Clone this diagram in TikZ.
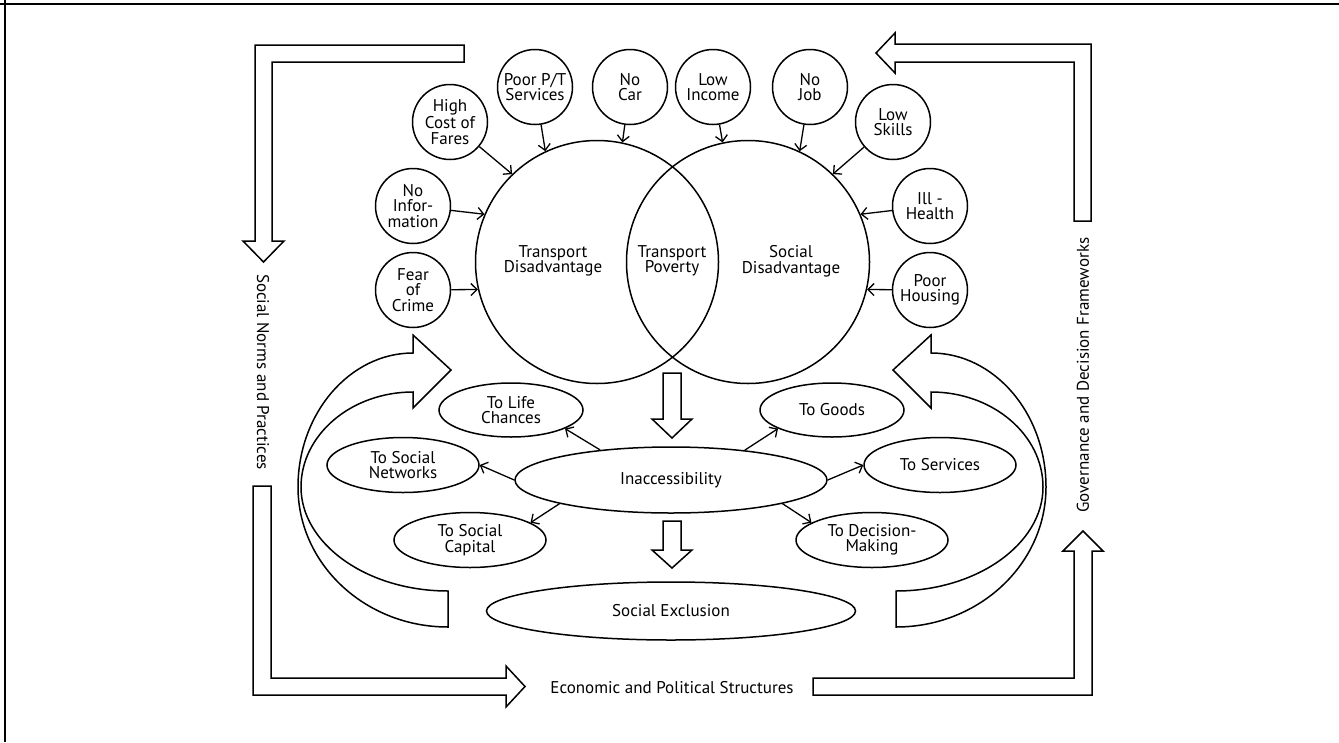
\documentclass[tikz,border=0pt]{standalone}
\usepackage{fontspec}
\setmainfont{PT Sans}
\usetikzlibrary{shapes.geometric,arrows.meta}
\begin{document}
\begin{tikzpicture}[x=1pt,y=-1pt,
  line width=1.5pt,
  txt/.style={font=\fontsize{17}{15.5}\selectfont, align=center, inner sep=0pt},
  smallc/.style={txt, draw, circle, minimum size=75pt},
  bigc/.style={draw, circle, minimum size=243pt, inner sep=0pt},
  ell/.style={txt, draw, ellipse, minimum width=152pt, minimum height=55pt},
  conn/.style={-{Straight Barb[length=6pt,width=12pt]}, line width=1.3pt},
  block/.style={draw, line width=1.5pt, fill=white, line join=miter},
  ]
\useasboundingbox (0,0) rectangle (1339,742);
% frame edges
\draw[line width=2.3pt] (0,4) -- (1339,4);
\draw[line width=2.3pt] (5,0) -- (5,742);

% Venn circles
\node[bigc] (TD) at (597,262) {};
\node[bigc] (SD) at (748,262) {};
\node[txt] (tdt) at (553,261) {Transport\\Disadvantage};
\node[txt] (tpt) at (672,261) {Transport\\Poverty};
\node[txt] (sdt) at (791,261) {Social\\Disadvantage};

% small circles
\node[smallc] (pt) at (535,87) {Poor P/T\\Services};
\node[smallc] (car) at (630,87) {No\\Car};
\node[smallc] (inc) at (713,87) {Low\\Income};
\node[smallc] (job) at (810,87) {No\\Job};
\node[smallc] (hc) at (450,122) {High\\Cost of\\Fares};
\node[smallc] (ls) at (893,122) {Low\\Skills};
\node[smallc] (ni) at (413,206) {No\\Infor-\\mation};
\node[smallc] (ih) at (930,206) {Ill -\\Health};
\node[smallc] (fc) at (413,290) {Fear\\of\\Crime};
\node[smallc] (ph) at (930,290) {Poor\\Housing};

\draw[conn] (pt) -- (TD.115);
\draw[conn] (car) -- (TD.78);
\draw[conn] (hc) -- (TD.134);
\draw[conn] (ni) -- (TD.157);
\draw[conn] (fc) -- (TD.193.5);
\draw[conn] (inc) -- (SD.102);
\draw[conn] (job) -- (SD.65);
\draw[conn] (ls) -- (SD.46);
\draw[conn] (ih) -- (SD.23);
\draw[conn] (ph) -- (SD.-13.5);

% ellipses
\node[ell, minimum width=312pt, minimum height=66pt] (ina) at (671,480) {Inaccessibility};
\node[ell, minimum width=144pt, minimum height=54pt] (lc) at (511,410) {To Life\\Chances};
\node[ell, minimum width=144pt, minimum height=54pt] (go) at (832,410) {To Goods};
\node[ell] (sn) at (403,465) {To Social\\Networks};
\node[ell] (sv) at (940,465) {To Services};
\node[ell] (sc) at (470,540) {To Social\\Capital};
\node[ell] (dm) at (872,540) {To Decision-\\Making};
\node[ell, minimum width=369pt, minimum height=58pt] (se) at (671,611) {Social Exclusion};

\draw[conn] (ina.157.7) -- (lc.-19);
\draw[conn] (ina.180) -- (sn.0);
\draw[conn] (ina.192) -- (sc.16);
\draw[conn] (ina.22.3) -- (go.199);
\draw[conn] (ina.0) -- (sv.180);
\draw[conn] (ina.-12) -- (dm.164);

% central block arrows
\draw[block] (663,373) -- (681,373) -- (681,419) -- (692,419) -- (672,438) -- (652,419) -- (663,419) -- cycle;
\draw[block] (663,521) -- (681,521) -- (681,550) -- (692,550) -- (672,568) -- (652,550) -- (663,550) -- cycle;

% L-shaped block arrows
\draw[block] (464,45) -- (255,45) -- (255,241) -- (243,241) -- (263.5,262) -- (284,241) -- (272,241) -- (272,62) -- (464,62) -- cycle;
\draw[block] (1074,221) -- (1074,62) -- (895,62) -- (895,73) -- (876,53) -- (895,33) -- (895,44) -- (1091,44) -- (1091,221) -- cycle;
\draw[block] (253,486) -- (253,695) -- (506,695) -- (506,707) -- (525,686.5) -- (506,666) -- (506,678) -- (271,678) -- (271,486) -- cycle;
\draw[block] (813,678) -- (1074,678) -- (1074,551) -- (1063,551) -- (1083,531) -- (1103,551) -- (1092,551) -- (1092,695) -- (813,695) -- cycle;

% curved block arrows
\draw[block] (448,591) -- (448,627) .. controls (365,627) and (298,564) .. (298,487)
  .. controls (298,413) and (350,353) .. (413,353) -- (413,335) -- (451,370) -- (413,408) -- (413,392)
  .. controls (351,392) and (301,435) .. (301,487) .. controls (301,544) and (367,591) .. (448,591) -- cycle;
\begin{scope}[shift={(1344,0)}, xscale=-1]
\draw[block] (448,591) -- (448,627) .. controls (365,627) and (298,564) .. (298,487)
  .. controls (298,413) and (350,353) .. (413,353) -- (413,335) -- (451,370) -- (413,408) -- (413,392)
  .. controls (351,392) and (301,435) .. (301,487) .. controls (301,544) and (367,591) .. (448,591) -- cycle;
\end{scope}

% frame labels
\node[txt, rotate=-90] (snp) at (263,372) {Social Norms and Practices};
\node[txt, rotate=90] (gdf) at (1083,375) {Governance and Decision Frameworks};
\node[txt] (eps) at (672,688) {Economic and Political Structures};
\end{tikzpicture}
\end{document}
